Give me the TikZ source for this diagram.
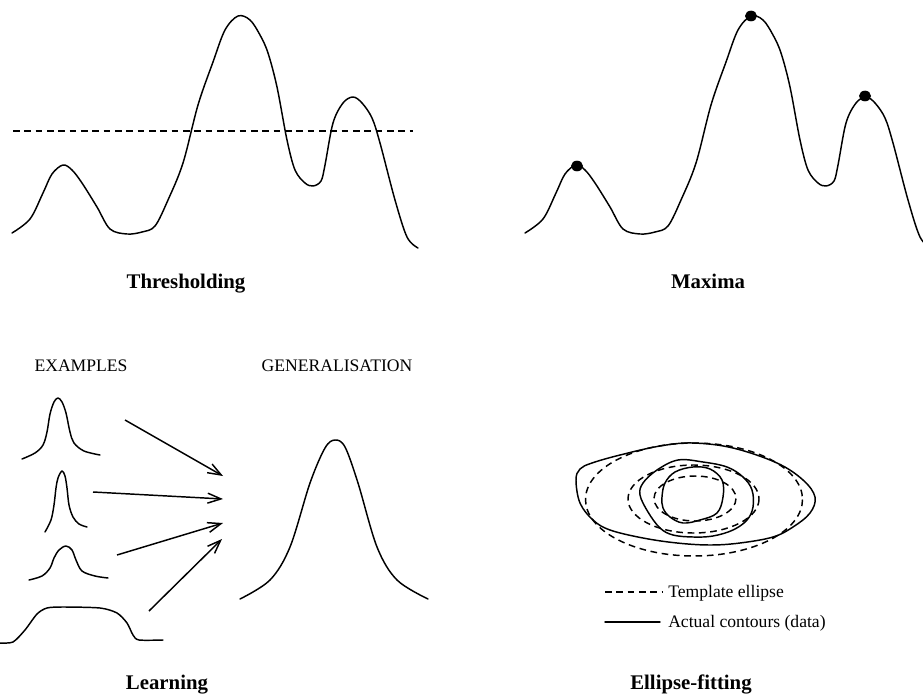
\documentclass[tikz,border=0pt]{standalone}
\usepackage{fontspec}
\setmainfont{Liberation Serif}
\usetikzlibrary{arrows.meta}
\tikzset{
  curve/.style={line width=1.1pt, line join=round, line cap=round},
  dashline/.style={line width=1.1pt, dash pattern=on 5pt off 3.5pt},
  arr/.style={line width=1.1pt, -{Straight Barb[length=10pt,width=7.5pt,line width=1.1pt]}},
  titlelbl/.style={font=\fontsize{15.6}{18}\selectfont\bfseries, anchor=base, inner sep=0pt},
  smalllbl/.style={font=\fontsize{13.2}{15}\selectfont, anchor=base, inner sep=0pt},
  leglbl/.style={font=\fontsize{13.2}{15}\selectfont, anchor=base west, inner sep=0pt},
  peakdot/.style={fill=black, ellipse, inner sep=0pt, minimum width=9pt, minimum height=8pt}
}
\usetikzlibrary{shapes.geometric}
\begin{document}
\begin{tikzpicture}[x=0.75pt,y=-0.75pt]
\useasboundingbox (0,0) rectangle (923,698);
\clip (0,0) rectangle (923,698);
% ---------- Thresholding ----------
\draw[curve] plot[smooth, tension=0.55] coordinates {(12,233) (30,219) (43,193) (52,174) (63,165) (72,170) (82,183) (97,207) (110,229) (127,234) (142,232) (155,226) (168,200) (183,163) (198,105) (213,62) (225,30) (238,16) (250,20) (260,35) (268,53) (277,87) (287,140) (295,170) (305,183) (313,186) (321,181) (325,165) (333,123) (343,103) (353,97) (362,103) (372,118) (380,143) (395,200) (407,237) (418,248)};
\coordinate (thrL) at (13,131);
\coordinate (thrR) at (413,131);
\draw[dashline] (thrL) -- (thrR);
\node[titlelbl] (lblthr) at (186,289) {Thresholding};
% ---------- Maxima ----------
\begin{scope}[xshift=513*0.75pt]
\draw[curve] plot[smooth, tension=0.55] coordinates {(12,233) (30,219) (43,193) (52,174) (63,165) (72,170) (82,183) (97,207) (110,229) (127,234) (142,232) (155,226) (168,200) (183,163) (198,105) (213,62) (225,30) (238,16) (250,20) (260,35) (268,53) (277,87) (287,140) (295,170) (305,183) (313,186) (321,181) (325,165) (333,123) (343,103) (353,97) (362,103) (372,118) (380,143) (395,200) (407,237) (418,248)};
\node[peakdot] (m1) at (64,166) {};
\node[peakdot] (m2) at (238,16) {};
\node[peakdot] (m3) at (352,96) {};
\end{scope}
\node[titlelbl] (lblmax) at (708,289) {Maxima};
% ---------- Learning ----------
\node[smalllbl] (lblex) at (81,371) {EXAMPLES};
\node[smalllbl] (lblgen) at (337,371) {GENERALISATION};
\draw[curve] plot[smooth, tension=0.55] coordinates {(22,459) (35,453) (43,445) (47,432) (50,414) (54,402) (58,398) (62,402) (66,413) (70,432) (74,443) (84,451) (100,455)};
\draw[curve] plot[smooth, tension=0.55] coordinates {(45,532) (51,520) (54,505) (56,488) (58,478) (62,471) (65,476) (67,488) (69,505) (73,517) (79,524) (87,527)};
\draw[curve] plot[smooth, tension=0.55] coordinates {(29,580) (42,576) (50,568) (54,558) (59,550) (66,546) (72,550) (76,560) (82,571) (95,576) (108,578)};
\draw[curve] plot[smooth, tension=0.45] coordinates {(0,643) (13,642) (25,630) (37,614) (47,608) (63,607) (100,608) (117,613) (127,623) (133,635) (139,640) (163,640)};
\draw[curve] plot[smooth, tension=0.55] coordinates {(240,599) (270,580) (290,547) (310,483) (325,448) (335,440) (345,447) (358,483) (377,547) (397,580) (428,599)};
\coordinate (a1s) at (125,420); \coordinate (a1e) at (223,476);
\coordinate (a2s) at (93,492);  \coordinate (a2e) at (223,499);
\coordinate (a3s) at (117,555); \coordinate (a3e) at (223,523);
\coordinate (a4s) at (149,611); \coordinate (a4e) at (222,539);
\draw[arr] (a1s) -- (a1e);
\draw[arr] (a2s) -- (a2e);
\draw[arr] (a3s) -- (a3e);
\draw[arr] (a4s) -- (a4e);
\node[titlelbl] (lbllearn) at (167,689) {Learning};
% ---------- Ellipse-fitting ----------
\draw[dashline] (694,499.5) ellipse [x radius=108.5, y radius=56.5];
\draw[dashline] (693.5,499) ellipse [x radius=65.5, y radius=34];
\draw[dashline] (695,498.5) ellipse [x radius=41, y radius=22.5];
\draw[curve] plot[smooth cycle, tension=0.6] coordinates {(576,480) (580,469) (592,463) (620,455) (660,446) (693,443) (733,448) (777,463) (803,480) (815,497) (810,513) (793,527) (773,537) (740,543) (710,545) (677,543) (643,538) (610,530) (593,520) (580,503)};
\draw[curve] plot[smooth cycle, tension=0.6] coordinates {(640,495) (643,483) (657,470) (678,460) (703,462) (727,467) (743,477) (752,490) (753,507) (747,520) (733,530) (713,536) (693,537) (673,535) (660,528) (648,512)};
\draw[curve] plot[smooth cycle, tension=0.6] coordinates {(662,497) (665,483) (675,472) (693,467) (710,469) (722,480) (723,497) (717,513) (700,520) (683,523) (670,517) (663,508)};
\coordinate (l1s) at (605,592); \coordinate (l1e) at (662,592);
\coordinate (l2s) at (605,622); \coordinate (l2e) at (660,622);
\draw[dashline] (l1s) -- (l1e);
\draw[curve] (l2s) -- (l2e);
\node[leglbl] (legt) at (668,597) {Template ellipse};
\node[leglbl] (lega) at (668,627) {Actual contours (data)};
\node[titlelbl] (lblell) at (691,689) {Ellipse-fitting};
\end{tikzpicture}
\end{document}
